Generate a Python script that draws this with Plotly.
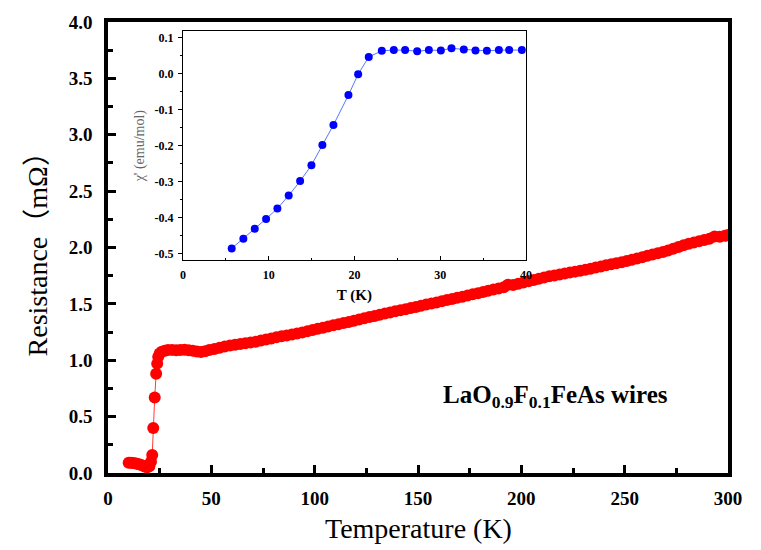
import plotly.graph_objects as go

# ---------------- data ----------------
temperature_K = [
    10.0, 11.0, 12.0, 13.0, 14.0, 15.0, 16.0, 17.0, 18.0, 19.0, 20.0, 20.8,
    21.4, 21.9, 22.6, 23.3, 23.8, 24.3, 25.0, 26.0, 27.5, 29.0, 31.0, 33.0,
    35.0, 37.0, 39.0, 41.0, 43.0, 45.0, 47.0, 49.0, 51.5, 54.0, 56.5, 59.0,
    61.5, 64.0, 66.5, 69.0, 71.5, 74.0, 76.5, 79.0, 81.5, 84.0, 86.5, 89.0,
    91.5, 94.0, 96.5, 99.0, 101.5, 104.0, 106.5, 109.0, 111.5, 114.0, 116.5,
    119.0, 121.5, 124.0, 126.5, 129.0, 131.5, 134.0, 136.5, 139.0, 141.5,
    144.0, 146.5, 149.0, 151.5, 154.0, 156.5, 159.0, 161.5, 164.0, 166.5,
    169.0, 171.5, 174.0, 176.5, 179.0, 181.5, 184.0, 186.5, 189.0, 191.5,
    193.5, 196.0, 198.5, 201.0, 203.5, 206.0, 208.5, 211.0, 213.5, 216.0,
    218.5, 221.0, 223.5, 226.0, 228.5, 231.0, 233.5, 236.0, 238.5, 241.0,
    243.5, 246.0, 248.5, 251.0, 253.5, 256.0, 258.5, 261.0, 263.5, 266.0,
    268.5, 271.0, 273.5, 276.0, 278.5, 281.0, 283.5, 286.0, 288.5, 291.0,
    293.5, 296.0, 298.5, 300.0,
]
resistance_mOhm = [
    0.090, 0.092, 0.088, 0.086, 0.083, 0.078, 0.072, 0.064, 0.056, 0.052, 0.060, 0.100,
    0.160, 0.400, 0.670, 0.880, 0.970, 1.030, 1.060, 1.075, 1.085, 1.090, 1.092, 1.088,
    1.090, 1.094, 1.088, 1.084, 1.078, 1.074, 1.080, 1.090, 1.100, 1.110, 1.122, 1.130,
    1.138, 1.145, 1.151, 1.158, 1.165, 1.176, 1.185, 1.193, 1.204, 1.212, 1.220, 1.229,
    1.238, 1.247, 1.257, 1.268, 1.279, 1.289, 1.299, 1.310, 1.320, 1.330, 1.340,
    1.351, 1.361, 1.372, 1.383, 1.392, 1.403, 1.414, 1.424, 1.434, 1.443,
    1.453, 1.463, 1.473, 1.483, 1.494, 1.503, 1.513, 1.524, 1.534, 1.544,
    1.554, 1.564, 1.575, 1.585, 1.595, 1.606, 1.616, 1.627, 1.637, 1.647,
    1.670, 1.668, 1.678, 1.690, 1.700, 1.712, 1.722, 1.734, 1.744, 1.752,
    1.760, 1.769, 1.778, 1.786, 1.794, 1.802, 1.812, 1.822, 1.832, 1.842,
    1.851, 1.861, 1.870, 1.880, 1.892, 1.903, 1.914, 1.926, 1.937, 1.949,
    1.961, 1.974, 1.988, 2.004, 2.020, 2.034, 2.045, 2.056, 2.067, 2.078,
    2.098, 2.095, 2.104, 2.110,
]

inset_T_K = [
    5.68, 7.04, 8.37, 9.69, 11.01, 12.33, 13.66, 14.98, 16.26, 17.55, 19.30,
    20.43, 21.67, 23.19, 24.59, 25.91, 27.32, 28.68, 30.08, 31.32, 32.76,
    34.12, 35.45, 36.85, 38.05, 39.53,
]
inset_chi = [
    -0.486, -0.459, -0.431, -0.404, -0.375, -0.339, -0.299, -0.255, -0.199,
    -0.143, -0.060, -0.002, 0.046, 0.063, 0.065, 0.065, 0.062, 0.065, 0.064,
    0.070, 0.067, 0.064, 0.063, 0.065, 0.065, 0.065,
]

main_x_ticks = [0, 50, 100, 150, 200, 250, 300]
main_y_ticks = [0.0, 0.5, 1.0, 1.5, 2.0, 2.5, 3.0, 3.5, 4.0]
main_y_ticktext = ["0.0", "0.5", "1.0", "1.5", "2.0", "2.5", "3.0", "3.5", "4.0"]
inset_x_ticks = [0, 10, 20, 30, 40]
inset_y_ticks = [-0.5, -0.4, -0.3, -0.2, -0.1, 0.0, 0.1]
inset_y_ticktext = ["-0.5", "-0.4", "-0.3", "-0.2", "-0.1", "0.0", "0.1"]

# ---------------- figure ----------------
SERIF = "Liberation Serif, Times New Roman, Noto Sans CJK SC, serif"

fig = go.Figure()

fig.add_trace(go.Scatter(
    x=temperature_K, y=resistance_mOhm, mode="lines+markers",
    line=dict(color="#ff3b3b", width=1),
    marker=dict(color="#ff0000", size=12, line=dict(width=0)),
    xaxis="x", yaxis="y", showlegend=False,
))

fig.add_trace(go.Scatter(
    x=inset_T_K, y=inset_chi, mode="lines+markers",
    line=dict(color="#5577ff", width=1),
    marker=dict(color="#0000ff", size=8, line=dict(width=0)),
    xaxis="x2", yaxis="y2", showlegend=False,
))

tickfont_main = dict(family=SERIF, size=19, color="black", weight="bold")
tickfont_inset = dict(family=SERIF, size=12, color="black", weight="bold")

fig.update_layout(
    width=761, height=550,
    margin=dict(l=108, r=33, t=15, b=77),
    paper_bgcolor="white", plot_bgcolor="white",
    xaxis=dict(
        domain=[0, 1], range=[0, 300], anchor="y",
        tickmode="array", tickvals=main_x_ticks,
        ticks="inside", ticklen=8, tickwidth=2.5, tickcolor="black",
        minor=dict(ticks="inside", dtick=25, tick0=0, ticklen=5, tickwidth=2.5, tickcolor="black"),
        showline=True, linewidth=3.5, linecolor="black", mirror=True,
        showgrid=False, zeroline=False,
        tickfont=tickfont_main, ticklabelstandoff=5,
    ),
    yaxis=dict(
        domain=[0, 1], range=[0, 4.0], anchor="x",
        tickmode="array", tickvals=main_y_ticks, ticktext=main_y_ticktext,
        ticks="inside", ticklen=8, tickwidth=2.5, tickcolor="black",
        minor=dict(ticks="inside", dtick=0.25, tick0=0, ticklen=5, tickwidth=2.5, tickcolor="black"),
        showline=True, linewidth=3.5, linecolor="black", mirror=True,
        showgrid=False, zeroline=False,
        tickfont=tickfont_main, ticklabelstandoff=8,
    ),
    xaxis2=dict(
        domain=[0.121, 0.674], range=[0, 40], anchor="y2",
        tickmode="array", tickvals=inset_x_ticks,
        ticks="inside", ticklen=4, tickwidth=1, tickcolor="black",
        minor=dict(ticks="inside", dtick=5, tick0=0, ticklen=2, tickwidth=1, tickcolor="black"),
        showline=True, linewidth=1.3, linecolor="black", mirror=True,
        showgrid=False, zeroline=False,
        tickfont=tickfont_inset, ticklabelstandoff=3,
        title=dict(text="T (K)", font=dict(family=SERIF, size=15, color="black", weight="bold"), standoff=8),
    ),
    yaxis2=dict(
        domain=[0.4716, 0.980], range=[-0.519, 0.118], anchor="x2",
        tickmode="array", tickvals=inset_y_ticks, ticktext=inset_y_ticktext,
        ticks="outside", ticklen=4, tickwidth=1, tickcolor="black",
        minor=dict(ticks="outside", dtick=0.05, tick0=0, ticklen=2, tickwidth=1, tickcolor="black"),
        showline=True, linewidth=1.3, linecolor="black", mirror=True,
        showgrid=False, zeroline=False,
        tickfont=tickfont_inset, ticklabelstandoff=2,
        title=dict(text="χ' (emu/mol)", font=dict(family=SERIF, size=14, color="#666666"), standoff=6),
    ),
    annotations=[
        dict(text="Temperature (K)", xref="paper", yref="paper", x=0.5, y=-0.124,
             xanchor="center", yanchor="middle", showarrow=False,
             font=dict(family=SERIF, size=28, color="black")),
        dict(text="Resistance（mΩ）", xref="paper", yref="paper", x=-0.113, y=0.5,
             xanchor="center", yanchor="middle", showarrow=False, textangle=-90,
             font=dict(family=SERIF, size=28, color="black")),
        dict(text="LaO<sub>0.9</sub>F<sub>0.1</sub>FeAs wires", xref="paper", yref="paper",
             x=0.721, y=0.17, xanchor="center", yanchor="middle", showarrow=False,
             font=dict(family=SERIF, size=25, color="black", weight="bold")),
    ],
)

fig.write_html("out.html")
